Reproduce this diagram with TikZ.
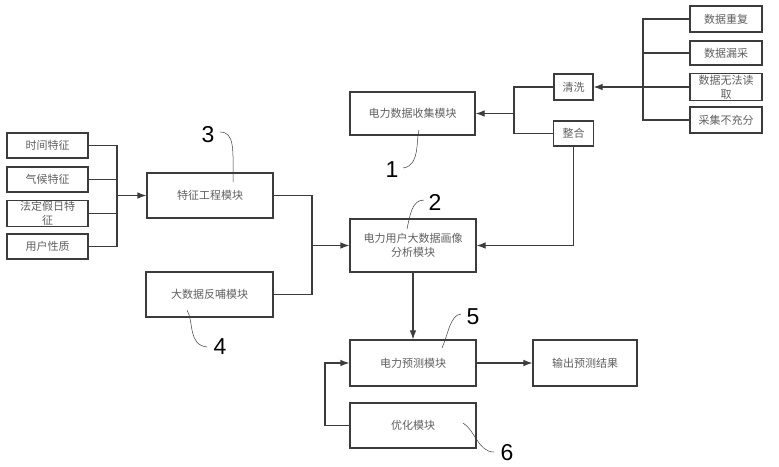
\documentclass[tikz,border=0pt]{standalone}
\usepackage{fontspec}
\setmainfont{Liberation Sans}
\newfontfamily\cjk{Noto Sans CJK SC}
\usetikzlibrary{arrows.meta}
\definecolor{ln}{HTML}{3C3C3C}
\definecolor{tx}{HTML}{606060}
\tikzset{
  box/.style={draw=ln, line width=1.1pt, fill=white, text=tx, align=center,
    font=\cjk\fontsize{11}{14}\selectfont, inner sep=1pt},
  wire/.style={draw=ln, line width=1.1pt},
  arr/.style={wire, -{Latex[length=9pt,width=6.5pt]}},
  lead/.style={draw=ln, line width=0.5pt},
  num/.style={font=\fontsize{23}{23}\selectfont, text=black, inner sep=0pt}
}
\begin{document}
\begin{tikzpicture}[x=1pt,y=-1pt]
\useasboundingbox[fill=white] (0,0) rectangle (779,466);
% right group
\node[box, minimum width=72, minimum height=26] (d1) at (726,19) {数据重复};
\node[box, minimum width=72, minimum height=24] (d2) at (726,53) {数据漏采};
\node[box, minimum width=72, minimum height=24] (d3) at (726,87) {数据无法读\\取};
\node[box, minimum width=72, minimum height=26] (d4) at (726,120) {采集不充分};
\node[box, minimum width=39, minimum height=26] (qx) at (573.5,87) {清洗};
\node[box, minimum width=40, minimum height=25] (zh) at (573.5,133.5) {整合};
% modules
\node[box, minimum width=125, minimum height=43] (m1) at (412.5,113.5) {电力数据收集模块};
\node[box, minimum width=126, minimum height=53] (m2) at (413,245.5) {电力用户大数据画像\\分析模块};
\node[box, minimum width=126, minimum height=45] (m3) at (210,195.5) {特征工程模块};
\node[box, minimum width=127, minimum height=45] (m4) at (209.5,294.5) {大数据反哺模块};
\node[box, minimum width=126, minimum height=46] (m5) at (413,363) {电力预测模块};
\node[box, minimum width=104, minimum height=46] (out) at (585,363) {输出预测结果};
\node[box, minimum width=126, minimum height=45] (m6) at (413,425.5) {优化模块};
% features
\node[box, minimum width=81, minimum height=25] (f1) at (47.5,145.5) {时间特征};
\node[box, minimum width=81, minimum height=25] (f2) at (47.5,179.5) {气候特征};
\node[box, minimum width=81, minimum height=25] (f3) at (47.5,213.5) {法定假日特\\征};
\node[box, minimum width=81, minimum height=25] (f4) at (47.5,246.5) {用户性质};
% bus coordinates
\coordinate (bR) at (643,87);
\coordinate (bL) at (514,113.5);
\coordinate (bF) at (117,195.5);
\coordinate (bM) at (312,245.5);
\coordinate (bO) at (325,425.5);
% right bus
\draw[wire] (d1.west) -- (d1.west -| bR) -- (d4.west -| bR) -- (d4.west);
\draw[wire] (d2.west) -- (d2.west -| bR);
\draw[wire] (d3.west) -- (d3.west -| bR);
\draw[arr] (bR) -- (qx.east);
% left bus
\draw[wire] (qx.west) -- (qx.west -| bL) -- (zh.west -| bL) -- (zh.west);
\draw[arr] (bL) -- (m1.east);
\draw[arr] (zh.south) -- (zh.south |- m2.east) -- (m2.east);
% features bus
\draw[wire] (f1.east) -- (f1.east -| bF) -- (f4.east -| bF) -- (f4.east);
\draw[wire] (f2.east) -- (f2.east -| bF);
\draw[wire] (f3.east) -- (f3.east -| bF);
\draw[arr] (bF) -- (m3.west);
% modules bus
\draw[wire] (m3.east) -- (m3.east -| bM) -- (m4.east -| bM) -- (m4.east);
\draw[arr] (bM) -- (m2.west);
\draw[arr] (m2.south) -- (m5.north);
\draw[arr] (m5.east) -- (out.west);
\draw[arr] (m6.west) -- (bO) |- (m5.west);
% number labels
\node[num] (n1) at (392,170) {1};
\node[num] (n2) at (435,202) {2};
\node[num] (n3) at (208,135) {3};
\node[num] (n4) at (220,347) {4};
\node[num] (n5) at (473,317) {5};
\node[num] (n6) at (507,453) {6};
\coordinate (c1a) at (419,130); \coordinate (c1b) at (403,168);
\coordinate (c2a) at (424,200); \coordinate (c2b) at (407,229);
\coordinate (c3a) at (220,132); \coordinate (c3b) at (233,182);
\coordinate (c4a) at (187,310); \coordinate (c4b) at (207,347);
\coordinate (c5a) at (461,314); \coordinate (c5b) at (442,348);
\coordinate (c6a) at (463,423); \coordinate (c6b) at (494,452);
\draw[lead] (c1a) .. controls (416,140) and (420,166) .. (c1b);
\draw[lead] (c2a) .. controls (412,200) and (410,215) .. (c2b);
\draw[lead] (c3a) .. controls (235,132) and (233,150) .. (c3b);
\draw[lead] (c4a) .. controls (194,322) and (188,345) .. (c4b);
\draw[lead] (c5a) .. controls (450,315) and (448,335) .. (c5b);
\draw[lead] (c6a) .. controls (475,430) and (478,452) .. (c6b);
\end{tikzpicture}
\end{document}
